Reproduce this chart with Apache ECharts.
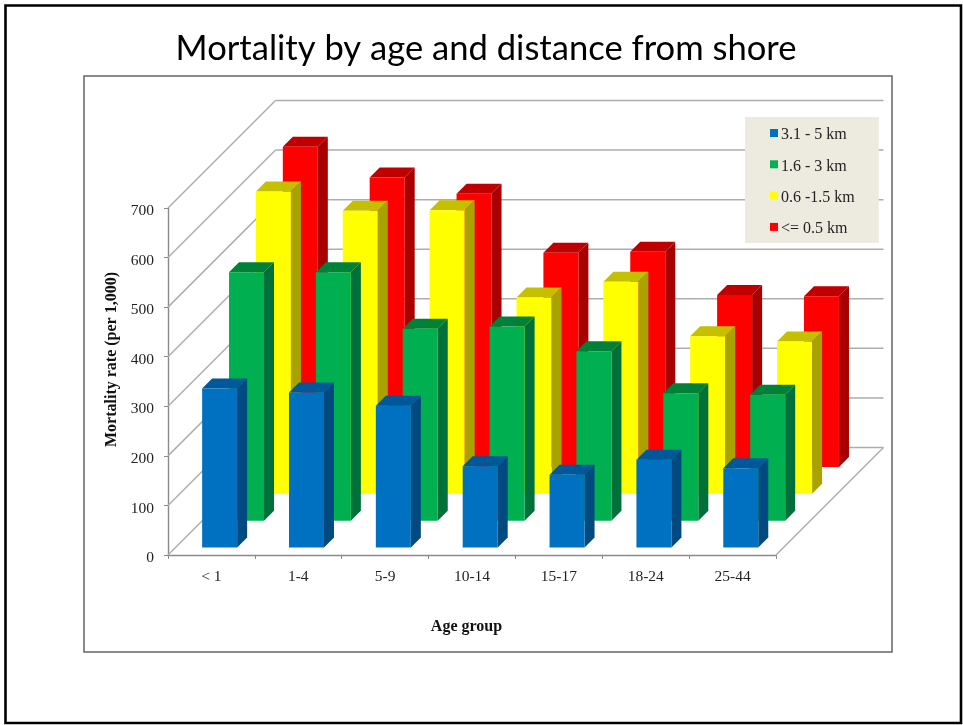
<!DOCTYPE html>
<html>
<head>
<meta charset="utf-8">
<style>html,body{margin:0;padding:0;background:#fff}#c{width:963px;height:725px}</style>
<script src="https://cdn.jsdelivr.net/npm/echarts@6/dist/echarts.min.js"></script>
</head>
<body>
<div id="c"></div>
<script>
const categories = ['< 1','1-4','5-9','10-14','15-17','18-24','25-44'];
const ticks = [0,100,200,300,400,500,600,700];
const near5km  = [321,313,286,164,147,177,160];
const near3km  = [501,501,387,392,342,257,254];
const near15km = [610,571,572,396,428,318,307];
const near05km = [646,584,551,432,434,347,344];
const seriesNames = ['3.1 - 5 km','1.6 - 3 km','0.6 -1.5 km','<= 0.5 km'];
const front = ['#0070C0','#00B050','#FFFF00','#FF0000'];
const side  = ['#004A80','#00703A','#A8A300','#A80000'];
const topC  = ['#00589A','#008038','#C4C000','#C00000'];

const DEPTH = 107.5, ROW = 26.9, START_X = 8.2, START_Y = 7.4, SIDE = 10, BAR = 0.403;

function barRender(row){
  return function(params, api){
    const cat = api.value(0), v = api.value(1);
    const base = api.coord([cat,0]), head = api.coord([cat,v]);
    const band = api.size([1,0])[0];
    const w = band*BAR;
    const x0 = base[0] - w/2 + START_X + ROW*row, x1 = x0 + w;
    const off = START_Y + ROW*row;
    const yb = base[1] - off, yt = head[1] - off;
    return {type:'group', children:[
      {type:'polygon', shape:{points:[[x1,yb],[x1+SIDE,yb-SIDE],[x1+SIDE,yt-SIDE],[x1,yt]]}, style:{fill:side[row]}},
      {type:'polygon', shape:{points:[[x0,yt],[x0+SIDE,yt-SIDE],[x1+SIDE,yt-SIDE],[x1,yt]]}, style:{fill:topC[row]}},
      {type:'rect', shape:{x:x0,y:yt,width:w,height:yb-yt}, style:{fill:front[row]}}
    ]};
  };
}
function wallRender(params, api){
  const v = api.value(0);
  const band = api.size([1,0])[0];
  const p0 = api.coord([0,v]), pN = api.coord([categories.length-1,v]);
  const xl = p0[0]-band/2, xr = pN[0]+band/2, y = p0[1];
  const st = {stroke:'#ADADAD', lineWidth:1.5, fill:null};
  const kids = [
    {type:'line', shape:{x1:xl,y1:y,x2:xl+DEPTH,y2:y-DEPTH}, style:st},
    {type:'line', shape:{x1:xl+DEPTH,y1:y-DEPTH,x2:xr+DEPTH,y2:y-DEPTH}, style:st}
  ];
  if(v===0) kids.push({type:'line', shape:{x1:xr,y1:y,x2:xr+DEPTH,y2:y-DEPTH}, style:st});
  return {type:'group', children:kids};
}
const valueSets = [near5km,near3km,near15km,near05km];
const barSeries = valueSets.map((vals,row)=>({
  type:'custom', name:seriesNames[row], coordinateSystem:'cartesian2d', clip:false,
  z:10-row, renderItem:barRender(row), itemStyle:{color:front[row]},
  encode:{x:0,y:1}, data:vals.map((v,i)=>[i,v])
})).reverse();

const serif = 'Liberation Serif';
const chart = echarts.init(document.getElementById('c'),null,{renderer:'canvas'});
chart.setOption({
  animation:false,
  backgroundColor:'#fff',
  title:{text:'Mortality by age and distance from shore', left:481, top:26, textAlign:'center',
    textStyle:{fontFamily:'Lato',fontSize:34.6,fontWeight:'normal',color:'#000'}},
  grid:{left:168,right:187,top:208,bottom:170,containLabel:false},
  legend:{data:seriesNames, left:745, top:117, orient:'vertical', itemWidth:8, itemHeight:8, itemGap:15.3,
    padding:[10,24,6,25], backgroundColor:'#EDEBE0', icon:'rect', selectedMode:false,
    formatter:name=>'{a|'+name+'}',
    textStyle:{fontFamily:serif,fontSize:16,color:'#222',
      rich:{a:{fontFamily:serif,fontSize:16,color:'#222',padding:[4,0,0,-2]}}}},
  xAxis:{type:'category',data:categories,boundaryGap:true,
    name:'Age group',nameLocation:'middle',nameGap:64,
    nameTextStyle:{fontFamily:serif,fontWeight:'bold',fontSize:16,color:'#111',padding:[0,11,0,0]},
    axisLine:{show:true,lineStyle:{color:'#8A8A8A',width:1.4}},
    axisTick:{show:true,length:4,alignWithLabel:false,lineStyle:{color:'#8A8A8A'}},
    axisLabel:{interval:0,margin:14,fontFamily:serif,fontSize:15.5,color:'#222'}},
  yAxis:{type:'value',min:0,max:700,interval:100,
    name:'Mortality rate (per 1,000)',nameLocation:'middle',nameGap:44,
    nameTextStyle:{fontFamily:serif,fontWeight:'bold',fontSize:16,color:'#111',padding:[0,0,0,44]},
    axisLine:{show:true,lineStyle:{color:'#8A8A8A',width:1.4}},
    axisTick:{show:true,length:4,lineStyle:{color:'#8A8A8A'}},
    splitLine:{show:false},
    axisLabel:{margin:14,formatter:v=>'{a|'+v+'}',
      rich:{a:{fontFamily:serif,fontSize:15.5,color:'#222',padding:[6,0,0,0]}}}},
  graphic:[
    {type:'rect',silent:true,z:-1,shape:{x:84,y:76,width:808,height:576},style:{fill:'#fff',stroke:'#666',lineWidth:1.5}},
    {type:'rect',silent:true,z:-2,shape:{x:5.5,y:5.5,width:955.5,height:717.5},style:{fill:'#fff',stroke:'#000',lineWidth:2.6}}
  ],
  series:[
    {type:'custom',name:'wall',coordinateSystem:'cartesian2d',clip:false,z:1,silent:true,
     renderItem:wallRender,encode:{y:0},data:ticks.map(v=>[v])}
  ].concat(barSeries)
});
</script>
</body>
</html>
